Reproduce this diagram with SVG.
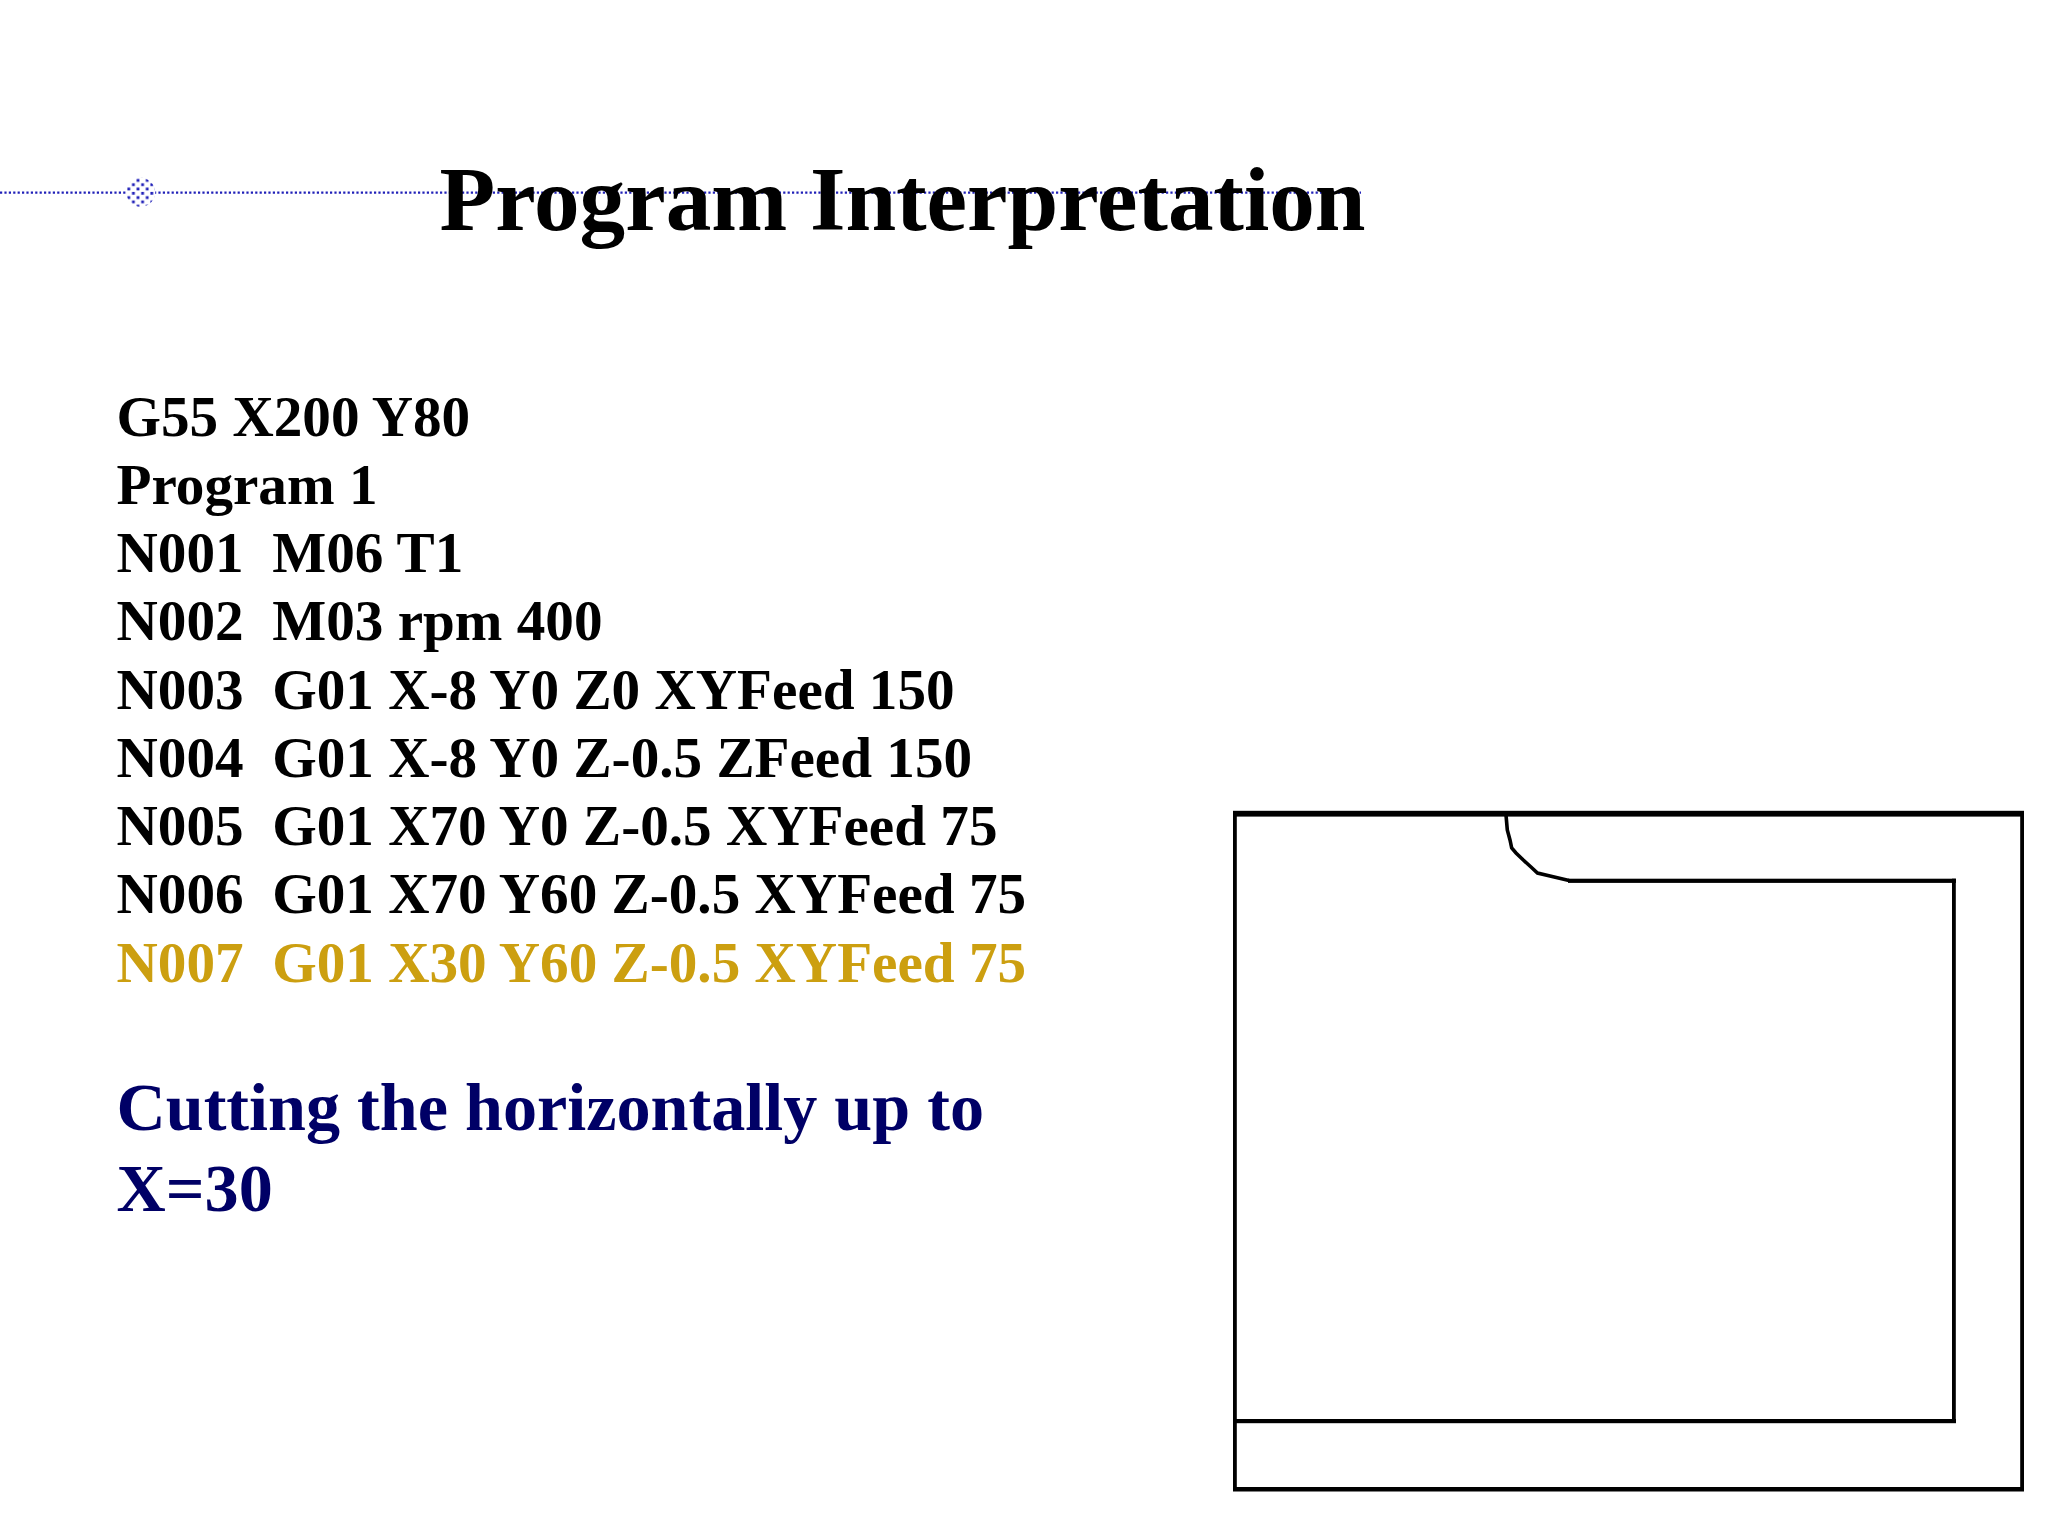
<svg xmlns="http://www.w3.org/2000/svg" width="2048" height="1536" viewBox="0 0 2048 1536">
<style>
text{font-family:"Liberation Serif","Times New Roman",serif;font-weight:bold;white-space:pre}
.t{font-size:91.2px;fill:#000}
.c{font-size:57.2px;fill:#000}
.h{font-size:57.2px;fill:#cc9f10}
.b{font-size:68.2px;fill:#000066}
.o{fill:#000}
</style>
<defs>
<pattern id="dots" width="9.2" height="8.6" patternUnits="userSpaceOnUse" x="127" y="178.6">
<rect x="0.4" y="0.4" width="2.8" height="2.8" fill="#1f1fb8"/>
<rect x="5" y="4.7" width="2.8" height="2.8" fill="#1f1fb8"/>
</pattern>
</defs>
<rect width="2048" height="1536" fill="#fff"/>
<g id="rule">
<line x1="0" y1="192.6" x2="1361" y2="192.6" stroke="#2020b8" stroke-width="2.2" stroke-dasharray="2.2 2.2"/>
<circle cx="140.7" cy="192.3" r="14.5" fill="#fff"/>
<circle cx="140.7" cy="192.3" r="14.5" fill="url(#dots)"/>
</g>
<g id="title"><text class="t" x="439.5" y="230">Program Interpretation</text></g>
<g id="code">
<text class="c" x="116.5" y="435.5">G55 X200 Y80</text>
<text class="c" x="116.5" y="503.7">Program 1</text>
<text class="c" x="116.5" y="572">N001  M06 T1</text>
<text class="c" x="116.5" y="640.2">N002  M03 rpm 400</text>
<text class="c" x="116.5" y="708.5">N003  G01 X-8 Y0 Z0 XYFeed 150</text>
<text class="c" x="116.5" y="776.7">N004  G01 X-8 Y0 Z-0.5 ZFeed 150</text>
<text class="c" x="116.5" y="845">N005  G01 X70 Y0 Z-0.5 XYFeed 75</text>
<text class="c" x="116.5" y="913.2">N006  G01 X70 Y60 Z-0.5 XYFeed 75</text>
<text class="h" x="116.5" y="981.5">N007  G01 X30 Y60 Z-0.5 XYFeed 75</text>
</g>
<g id="note">
<text class="b" x="116.5" y="1130">Cutting the horizontally up to</text>
<text class="b" x="116.5" y="1211">X=30</text>
</g>
<g id="part">
<rect class="o" x="1233" y="810.8" width="791" height="5.8"/>
<rect class="o" x="1233" y="1487" width="791" height="4.5"/>
<rect class="o" x="1233" y="811" width="3.8" height="680"/>
<rect class="o" x="2020.2" y="811" width="3.8" height="680"/>
<rect class="o" x="1233" y="1419" width="723" height="4.2"/>
<rect class="o" x="1952" y="878.7" width="3.8" height="544"/>
<rect class="o" x="1568" y="878.7" width="388" height="4.2"/>
<path fill="none" stroke="#000" stroke-width="3.6" d="M1506 815L1507.3 830L1510 840L1511.7 848L1516 853L1523.3 860L1531 867L1537.5 873L1550 876L1569 880.5"/>
</g>
</svg>
